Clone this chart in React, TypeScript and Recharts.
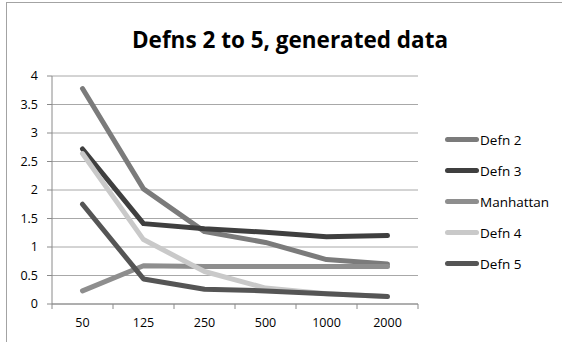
import React from "react";
import {
  CartesianGrid,
  Line,
  LineChart,
  XAxis,
  YAxis,
} from "recharts";

const sizes = ["50", "125", "250", "500", "1000", "2000"];
const defn2 = [3.78, 2.02, 1.27, 1.08, 0.78, 0.7];
const defn3 = [2.72, 1.41, 1.32, 1.26, 1.18, 1.2];
const manhattan = [0.23, 0.67, 0.66, 0.66, 0.66, 0.66];
const defn4 = [2.64, 1.13, 0.57, 0.28, 0.18, 0.13];
const defn5 = [1.75, 0.44, 0.26, 0.23, 0.18, 0.13];
const yTicks = [0, 0.5, 1, 1.5, 2, 2.5, 3, 3.5, 4];

const series = [
  { key: "defn2", name: "Defn 2", color: "#7b7b7b", values: defn2 },
  { key: "defn3", name: "Defn 3", color: "#3f3f3f", values: defn3 },
  { key: "manhattan", name: "Manhattan", color: "#8e8e8e", values: manhattan },
  { key: "defn4", name: "Defn 4", color: "#c9c9c9", values: defn4 },
  { key: "defn5", name: "Defn 5", color: "#555555", values: defn5 },
];

const data = sizes.map((size, i) => {
  const row: Record<string, string | number> = { size };
  series.forEach((s) => {
    row[s.key] = s.values[i];
  });
  return row;
});

const FONT = "'Open Sans', Lato, sans-serif";
const AXIS = "#8a8a8a";
const HALF_BAND = 30.5;

// category labels centred, tick marks drawn on the band edges
function SizeTick(props: any) {
  const { x, y, payload, index } = props;
  const last = index === sizes.length - 1;
  return (
    <g>
      <line x1={x - HALF_BAND} x2={x - HALF_BAND} y1={y - 8} y2={y - 3} stroke={AXIS} />
      {last && (
        <line x1={x + HALF_BAND} x2={x + HALF_BAND} y1={y - 8} y2={y - 3} stroke={AXIS} />
      )}
      <text x={x} y={y + 15} textAnchor="middle" fontSize={12.5} fill="#000" fontFamily={FONT}>
        {payload.value}
      </text>
    </g>
  );
}

function SeriesLegend() {
  return (
    <div
      style={{
        position: "absolute",
        left: 445,
        top: 124,
        fontFamily: FONT,
        fontSize: 13.5,
        color: "#000",
      }}
    >
      {series.map((s) => (
        <div key={s.key} style={{ display: "flex", alignItems: "center", height: 31 }}>
          <span
            style={{
              display: "inline-block",
              width: 34,
              height: 5,
              borderRadius: 3,
              background: s.color,
              marginRight: 1,
            }}
          />
          <span>{s.name}</span>
        </div>
      ))}
    </div>
  );
}

export default function App() {
  return (
    <div
      style={{
        position: "absolute",
        left: 0,
        top: 0,
        width: 562,
        height: 342,
        background: "#fff",
        overflow: "hidden",
      }}
    >
      <div
        style={{
          position: "absolute",
          left: 6,
          top: 2,
          width: 600,
          height: 400,
          borderLeft: "1.5px solid #a3a3a3",
          borderTop: "1.5px solid #a3a3a3",
        }}
      />
      <div
        style={{
          position: "absolute",
          top: 24,
          left: 0,
          width: 580,
          textAlign: "center",
          fontFamily: FONT,
          fontWeight: 700,
          fontSize: 22.5,
          color: "#000",
        }}
      >
        Defns 2 to 5, generated data
      </div>
      <LineChart
        width={562}
        height={342}
        data={data}
        margin={{ top: 76, right: 144, left: 12, bottom: 13 }}
        style={{ position: "absolute", left: 0, top: 0 }}
      >
        <CartesianGrid horizontal vertical={false} stroke="#a8a8a8" strokeWidth={1} />
        <XAxis
          dataKey="size"
          type="category"
          stroke={AXIS}
          tickLine={false}
          tick={<SizeTick />}
          height={25}
          interval={0}
          padding={{ left: HALF_BAND, right: HALF_BAND }}
        />
        <YAxis
          domain={[0, 4]}
          ticks={yTicks}
          width={40}
          stroke={AXIS}
          tickSize={5}
          tick={{ fontSize: 12.5, fill: "#000", fontFamily: FONT }}
          tickMargin={9}
        />
        {series.map((s) => (
          <Line
            key={s.key}
            dataKey={s.key}
            name={s.name}
            type="linear"
            stroke={s.color}
            strokeWidth={5}
            strokeLinecap="round"
            strokeLinejoin="round"
            dot={false}
            isAnimationActive={false}
          />
        ))}
      </LineChart>
      <SeriesLegend />
    </div>
  );
}
